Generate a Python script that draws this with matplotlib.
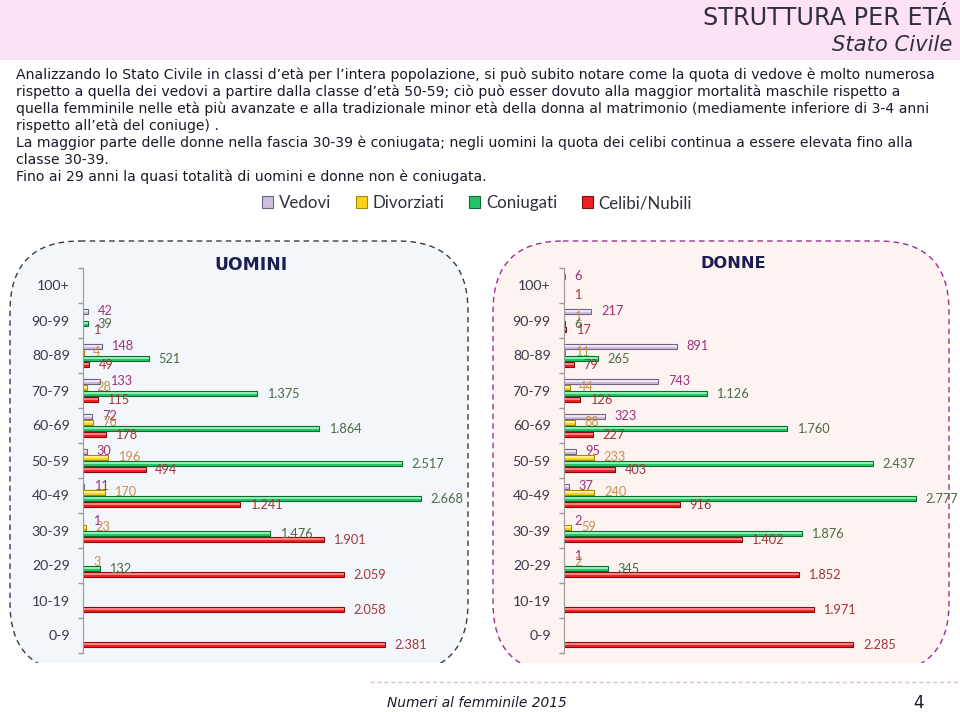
import numpy as np
import matplotlib
matplotlib.use("Agg")
import matplotlib.pyplot as plt
from matplotlib.patches import FancyBboxPatch, Rectangle, Patch
from matplotlib.lines import Line2D

# ---------------- data ----------------
categories = ["0-9", "10-19", "20-29", "30-39", "40-49", "50-59",
              "60-69", "70-79", "80-89", "90-99", "100+"]
series_names = ["Vedovi", "Divorziati", "Coniugati", "Celibi/Nubili"]

men_vedovi     = [0, 0, 0, 1, 11, 30, 72, 133, 148, 42, 0]
men_divorziati = [0, 0, 3, 23, 170, 196, 76, 28, 4, 0, 0]
men_coniugati  = [0, 0, 132, 1476, 2668, 2517, 1864, 1375, 521, 39, 0]
men_celibi     = [2381, 2058, 2059, 1901, 1241, 494, 178, 115, 49, 1, 0]

women_vedove     = [0, 0, 1, 2, 37, 95, 323, 743, 891, 217, 6]
women_divorziate = [0, 0, 2, 59, 240, 233, 88, 44, 11, 1, 0]
women_coniugate  = [0, 0, 345, 1876, 2777, 2437, 1760, 1126, 265, 6, 0]
women_nubili     = [2285, 1971, 1852, 1402, 916, 403, 227, 126, 79, 17, 1]

body_lines = [
    "Analizzando lo Stato Civile in classi d’età per l’intera popolazione, si può subito notare come la quota di vedove è molto numerosa",
    "rispetto a quella dei vedovi a partire dalla classe d’età 50-59; ciò può esser dovuto alla maggior mortalità maschile rispetto a",
    "quella femminile nelle età più avanzate e alla tradizionale minor età della donna al matrimonio (mediamente inferiore di 3-4 anni",
    "rispetto all’età del coniuge) .",
    "La maggior parte delle donne nella fascia 30-39 è coniugata; negli uomini la quota dei celibi continua a essere elevata fino alla",
    "classe 30-39.",
    "Fino ai 29 anni la quasi totalità di uomini e donne non è coniugata.",
]

# ---------------- styles ----------------
W, H = 960, 712
bar_fc = ["#cbbfdd", "#f7d31a", "#25c466", "#ee2020"]
bar_hi = ["#ece6f4", "#fff08a", "#8ef0b0", "#ff8080"]
bar_ec = ["#6f6384", "#a88a00", "#0b6b33", "#8c0a0a"]
lab_c = ["#a0307f", "#c8924a", "#4b6b43", "#a03838"]
offsets = [1.5, 0.5, -0.5, -1.5]
step = 0.172
bh = 0.16

fig = plt.figure(figsize=(W / 100, H / 100), dpi=100)
fig.patch.set_facecolor("white")

bg = fig.add_axes([0, 0, 1, 1])
bg.set_xlim(0, W)
bg.set_ylim(H, 0)
bg.axis("off")

# header band
bg.add_patch(Rectangle((0, 0), W, 60, facecolor="#fde1f5", edgecolor="none"))
bg.text(952, 18, "STRUTTURA PER ETÁ", ha="right", va="center", fontsize=17.2,
        color="#2f2f3f", family="DejaVu Sans")
bg.text(952, 45, "Stato Civile", ha="right", va="center", fontsize=15.2,
        style="italic", color="#2f2f3f", family="DejaVu Sans")

for i, line in enumerate(body_lines):
    bg.text(16, 75 + i * 17, line, ha="left", va="center", fontsize=10.1,
            color="#1a1a2a", family="DejaVu Sans")

clip = Rectangle((0, 0), W, 663, transform=bg.transData)
boxL = FancyBboxPatch((10, 241), 458, 432, boxstyle="round,pad=0,rounding_size=70",
                      facecolor="#f3f6fa", edgecolor="#3a3a40", lw=1.0,
                      linestyle=(0, (4, 3)))
boxR = FancyBboxPatch((493, 241), 456, 432, boxstyle="round,pad=0,rounding_size=70",
                      facecolor="#fdf3f1", edgecolor="#9a3090", lw=1.0,
                      linestyle=(0, (4, 3)))
for b in (boxL, boxR):
    bg.add_patch(b)
    b.set_clip_path(clip)

bg.text(251, 265, "UOMINI", ha="center", va="center", fontsize=12.3,
        fontweight="bold", color="#1b1d55", family="DejaVu Sans")
bg.text(733, 264, "DONNE", ha="center", va="center", fontsize=11.7,
        fontweight="bold", color="#1b1d55", family="DejaVu Sans")

# footer
bg.add_line(Line2D([370, W], [682, 682], color="#e6b8d8", lw=1.0,
                   linestyle=(0, (3, 2))))
bg.text(387, 703, "Numeri al femminile 2015", ha="left", va="center",
        fontsize=9.9, style="italic", color="#1a1a2a", family="DejaVu Sans")
bg.text(918, 703, "4", ha="center", va="center", fontsize=12,
        color="#1a1a2a", family="DejaVu Sans")


def fmt(v):
    return f"{v:,}".replace(",", ".") if v > 0 else ""


def panel(left_px, data):
    ax = fig.add_axes([left_px / W, 1 - 653 / H, 380 / W, 385 / H])
    ax.patch.set_alpha(0)
    y = np.arange(len(categories))
    for k, vals in enumerate(data):
        c = ax.barh(y + offsets[k] * step, vals, height=bh, color=bar_fc[k],
                    edgecolor=bar_ec[k], linewidth=0.8, label=series_names[k])
        hi = ax.barh(y + offsets[k] * step + bh * 0.12, vals, height=bh * 0.3,
                     color=bar_hi[k], edgecolor="none", linewidth=0)
        for p, q, v in zip(c.patches, hi.patches, vals):
            if v == 0:
                p.set_visible(False)
                q.set_visible(False)
        ax.bar_label(c, labels=[fmt(v) for v in vals], padding=7,
                     color=lab_c[k], fontsize=9.2, family="Lato")
    ax.set_xlim(0, 3000)
    ax.set_ylim(-0.5, len(categories) - 0.5)
    ax.set_yticks(y)
    ax.set_yticklabels(categories, fontsize=10.2, family="Lato", color="#3a3a48")
    ax.set_yticks(np.arange(-0.5, len(categories)), minor=True)
    ax.tick_params(axis="y", which="major", length=0, pad=9.5)
    ax.tick_params(axis="y", which="minor", length=3.6, color="#9a9aa0", width=1)
    ax.set_xticks([])
    for s in ["top", "right", "bottom"]:
        ax.spines[s].set_visible(False)
    ax.spines["left"].set_color("#9a9aa0")
    return ax


panel(83, [men_vedovi, men_divorziati, men_coniugati, men_celibi])
panel(564, [women_vedove, women_divorziate, women_coniugate, women_nubili])

handles = [Patch(facecolor=bar_fc[k], edgecolor=bar_ec[k], linewidth=0.8)
           for k in range(4)]
leg = fig.legend(handles=handles, labels=series_names, loc="center",
                 bbox_to_anchor=(477 / W, 1 - 203 / H), ncol=4, frameon=False,
                 prop={"family": "Lato", "size": 12.2}, handlelength=0.65,
                 handleheight=0.65, handletextpad=0.35, columnspacing=1.45)
for t in leg.get_texts():
    t.set_color("#2f2f3f")

fig.savefig("out.png", dpi=100)
